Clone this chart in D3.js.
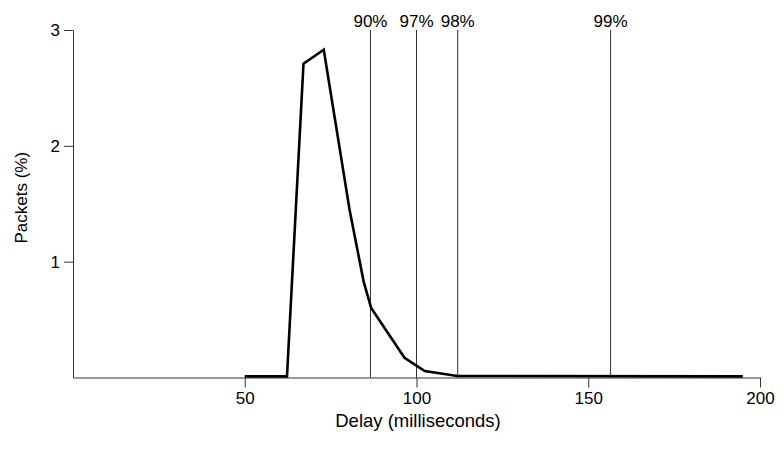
<!DOCTYPE html>
<html>
<head>
<meta charset="utf-8">
<script src="https://cdn.jsdelivr.net/npm/d3@7"></script>
<style>
  html, body { margin: 0; padding: 0; background: #fff; }
  svg { display: block; }
  text { font-family: "Liberation Sans", Arial, Helvetica, sans-serif; fill: #000; }
</style>
</head>
<body>
<svg id="chart" width="784" height="449"></svg>
<script>
// Data
const delays   = [50, 62.3, 67.1, 73, 80.5, 84.6, 86.8, 96.5, 102.4, 111.9, 195];
const packets  = [0.01, 0.01, 2.71, 2.83, 1.45, 0.83, 0.6, 0.17, 0.056, 0.013, 0.01];
const pctLabels = ["90%", "97%", "98%", "99%"];
const pctDelays = [86.6, 100, 112, 156.5];
const xTicks = [50, 100, 150, 200];
const yTicks = [1, 2, 3];

const FS = 17;
const svg = d3.select("#chart");
const x = d3.scaleLinear().domain([0, 200]).range([73, 760]);
const y = d3.scaleLinear().domain([0, 3]).range([377.5, 30]);

// Axes
const xAxis = svg.append("g").attr("transform", `translate(0,${y(0)})`)
  .call(d3.axisBottom(x).tickValues(xTicks).tickFormat(d3.format("d"))
    .tickSize(10).tickPadding(4).tickSizeOuter(0));
xAxis.attr("font-size", FS);
xAxis.select(".domain").attr("stroke", "#333");
xAxis.selectAll(".tick line").attr("stroke", "#333");
xAxis.selectAll("text").attr("font-size", FS);

const yAxis = svg.append("g").attr("transform", `translate(${x(0)},0)`)
  .call(d3.axisLeft(y).tickValues(yTicks).tickFormat(d3.format("d"))
    .tickSize(9).tickPadding(4).tickSizeOuter(0));
yAxis.attr("font-size", FS);
yAxis.select(".domain").attr("stroke", "#333");
yAxis.selectAll(".tick line").attr("stroke", "#333");
yAxis.selectAll("text").attr("font-size", FS);

// Percentile lines
const pct = pctLabels.map((l, i) => ({label: l, d: pctDelays[i]}));
svg.selectAll(".pline").data(pct).enter().append("line")
  .attr("class", "pline")
  .attr("x1", d => x(d.d)).attr("x2", d => x(d.d))
  .attr("y1", y(3)).attr("y2", y(0))
  .attr("stroke", "#333").attr("stroke-width", 1);
svg.selectAll(".plabel").data(pct).enter().append("text")
  .attr("class", "plabel")
  .attr("x", d => x(d.d)).attr("y", 27)
  .attr("text-anchor", "middle").attr("font-size", FS)
  .text(d => d.label);

// Data line
const pts = delays.map((d, i) => [d, packets[i]]);
svg.append("path").datum(pts)
  .attr("fill", "none").attr("stroke", "#000").attr("stroke-width", 2.6)
  .attr("stroke-linejoin", "miter")
  .attr("d", d3.line().x(d => x(d[0])).y(d => y(d[1])));

// Axis titles
svg.append("text").attr("x", 418).attr("y", 427)
  .attr("text-anchor", "middle").attr("font-size", 18.5)
  .text("Delay (milliseconds)");
svg.append("text")
  .attr("transform", `translate(27,${(y(0) + y(3)) / 2 - 6}) rotate(-90)`)
  .attr("text-anchor", "middle").attr("font-size", FS)
  .text("Packets (%)");
</script>
</body>
</html>
